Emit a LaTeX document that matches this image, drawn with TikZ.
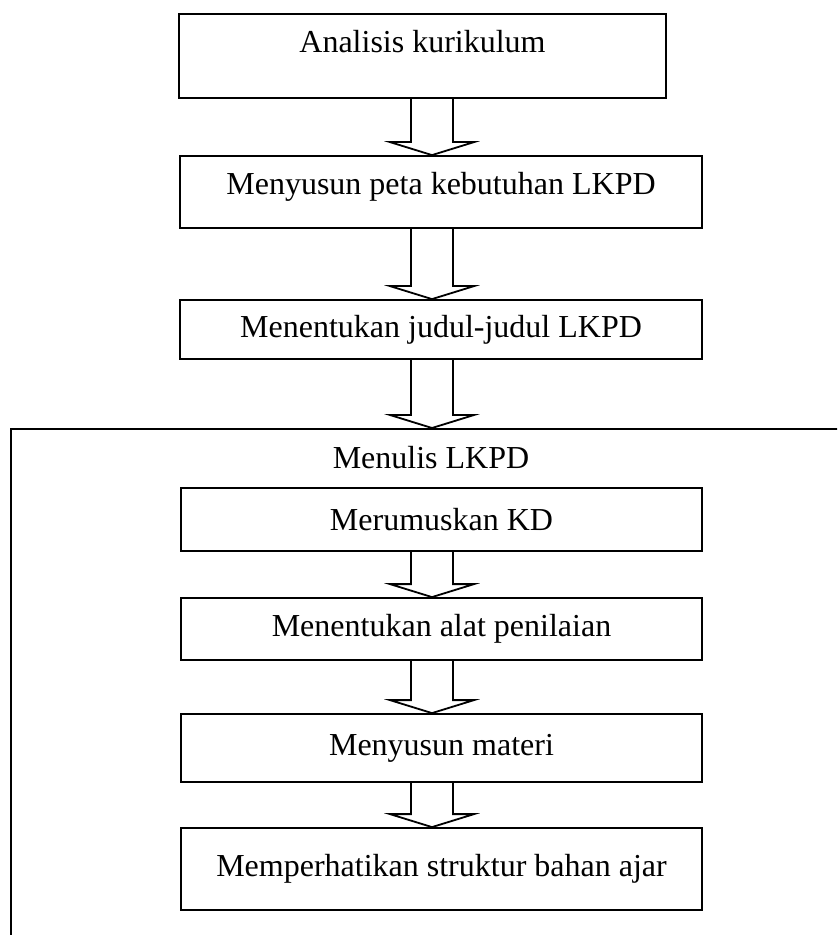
\documentclass[tikz,border=0pt]{standalone}
\usepackage{fontspec}
\setmainfont{Liberation Serif}
\usetikzlibrary{calc}
\tikzset{
  steptext/.style={font=\fontsize{16}{19}\selectfont},
  stepbox/.style={steptext, draw=black, line width=0.9pt, inner sep=0pt},
}
\newcommand{\hollowarrow}[2]{%
\draw [black, line width=0.9pt, line join=miter]
  ($(ax |- #1.south)+(-21,0)$) -- ($(ax |- #2.north)+(-21,-13)$)
  -- ($(ax |- #2.north)+(-42,-13)$) -- (ax |- #2.north)
  -- ($(ax |- #2.north)+(42,-13)$) -- ($(ax |- #2.north)+(21,-13)$)
  -- ($(ax |- #1.south)+(21,0)$);}

\begin{document}
\begin{tikzpicture}[x=0.5pt,y=-0.5pt]
\tikzstyle{every node}+=[inner sep=0pt]
\clip (0,0) rectangle (837,935);
\coordinate (ax) at (432,0);
\node [stepbox, minimum width=243.5pt, text height=19.5pt, text depth=22.5pt] (kurikulum) at (422.5,56) {Analisis kurikulum};
\node [stepbox, minimum width=261pt, text height=19.5pt, text depth=16.5pt] (peta) at (441,192) {Menyusun peta kebutuhan LKPD};
\node [stepbox, minimum width=261pt, minimum height=29.5pt] (judul) at (441,329.5) {Menentukan judul-judul LKPD};
\node [draw=black, line width=0.9pt, anchor=north west, minimum width=460pt, minimum height=300pt] (menulis) at (10,428) {};
\node [steptext] (menulistext) at (431,458) {Menulis LKPD};
\node [stepbox, minimum width=260.5pt, minimum height=31.5pt] (kd) at (441.5,519.5) {Merumuskan KD};
\node [stepbox, minimum width=260.5pt, minimum height=31pt] (alat) at (441.5,629) {Menentukan alat penilaian};
\node [stepbox, minimum width=260.5pt, minimum height=34pt] (materi) at (441.5,748) {Menyusun materi};
\node [stepbox, minimum width=260.5pt, minimum height=41pt] (struktur) at (441.5,869) {Memperhatikan struktur bahan ajar};
\hollowarrow{kurikulum}{peta}
\hollowarrow{peta}{judul}
\hollowarrow{judul}{menulis}
\hollowarrow{kd}{alat}
\hollowarrow{alat}{materi}
\hollowarrow{materi}{struktur}
\end{tikzpicture}
\end{document}
